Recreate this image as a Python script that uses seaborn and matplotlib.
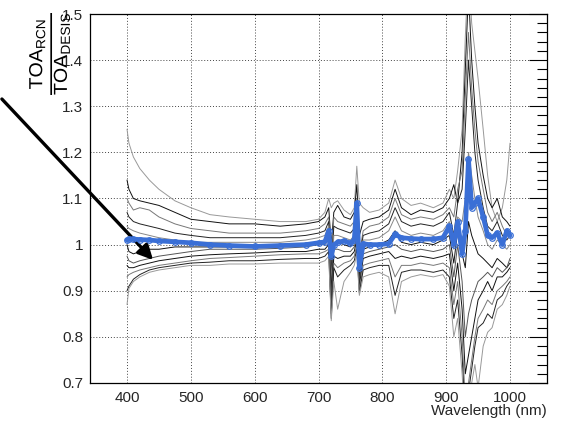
import matplotlib
matplotlib.use("Agg")
import matplotlib.pyplot as plt
import matplotlib.ticker as mticker
from matplotlib.textpath import TextPath
from matplotlib.patches import PathPatch
from matplotlib.transforms import Affine2D
from matplotlib.font_manager import FontProperties
import numpy as np
import pandas as pd
import seaborn as sns

# wavelength grid (nm)
wavelength = [400, 403, 410, 420, 435, 450, 475, 500, 530, 560, 600, 640, 680, 700, 710,
              716, 720, 724, 730, 740, 750, 756, 760, 764, 770, 780, 795, 810, 820, 830,
              845, 860, 880, 895, 905, 912, 918, 925, 930, 935, 940, 945, 950, 958, 965,
              972, 980, 988, 995, 1000]

# TOA ratio for each site/date (gray curves)
ratio_1 = [1.25, 1.22, 1.19, 1.165, 1.14, 1.12, 1.095, 1.08, 1.065, 1.06, 1.055, 1.05, 1.05, 1.055, 1.07,
           1.10, 1.08, 1.09, 1.095, 1.075, 1.065, 1.08, 1.17, 1.09, 1.08, 1.07, 1.075, 1.09, 1.14, 1.10,
           1.085, 1.09, 1.08, 1.09, 1.12, 1.10, 1.16, 1.25, 1.45, 1.60, 1.48, 1.42, 1.36, 1.25, 1.15,
           1.08, 1.05, 1.08, 1.14, 1.22]
ratio_2 = [1.14, 1.12, 1.10, 1.095, 1.09, 1.085, 1.07, 1.055, 1.05, 1.045, 1.045, 1.04, 1.045, 1.05, 1.06,
           1.08, 1.00, 1.07, 1.085, 1.06, 1.055, 1.07, 1.13, 1.02, 1.05, 1.055, 1.06, 1.075, 1.12, 1.08,
           1.065, 1.075, 1.07, 1.08, 1.10, 1.13, 1.09, 1.20, 1.38, 1.55, 1.40, 1.30, 1.22, 1.15, 1.10,
           1.08, 1.10, 1.06, 1.05, 1.04]
ratio_3 = [1.10, 1.09, 1.075, 1.08, 1.075, 1.06, 1.045, 1.035, 1.03, 1.025, 1.025, 1.025, 1.03, 1.035, 1.045,
           1.06, 0.96, 1.06, 1.05, 1.045, 1.04, 1.05, 1.10, 0.98, 1.03, 1.04, 1.045, 1.06, 1.10, 1.065,
           1.055, 1.06, 1.055, 1.065, 1.08, 1.06, 1.12, 1.16, 1.32, 1.46, 1.34, 1.25, 1.18, 1.12, 1.07,
           1.05, 1.07, 1.04, 1.02, 1.03]
ratio_4 = [1.07, 1.06, 1.05, 1.045, 1.04, 1.035, 1.025, 1.02, 1.015, 1.015, 1.015, 1.015, 1.02, 1.025, 1.03,
           1.05, 0.94, 1.04, 1.035, 1.03, 1.025, 1.035, 1.08, 0.97, 1.02, 1.025, 1.03, 1.045, 1.08, 1.05,
           1.04, 1.045, 1.04, 1.05, 1.07, 1.02, 1.09, 1.12, 1.25, 1.40, 1.30, 1.20, 1.14, 1.08, 1.04,
           1.03, 1.05, 1.02, 1.01, 1.02]
ratio_5 = [1.04, 1.035, 1.03, 1.025, 1.02, 1.015, 1.01, 1.005, 1.005, 1.005, 1.005, 1.005, 1.01, 1.015, 1.02,
           1.04, 0.92, 1.02, 1.02, 1.015, 1.01, 1.02, 1.06, 0.95, 1.01, 1.01, 1.015, 1.03, 1.06, 1.03,
           1.02, 1.025, 1.02, 1.03, 1.05, 0.99, 1.06, 1.05, 1.10, 1.20, 1.15, 1.10, 1.06, 1.03, 1.00,
           0.99, 1.01, 1.00, 0.99, 1.00]
ratio_6 = [1.00, 0.985, 0.98, 0.985, 0.99, 0.99, 0.995, 0.995, 0.995, 0.995, 0.995, 0.998, 1.0, 1.005, 1.01,
           1.02, 0.90, 1.00, 1.005, 1.0, 0.995, 1.01, 1.04, 0.93, 0.99, 0.995, 1.0, 1.01, 1.03, 1.005,
           1.0, 1.005, 1.0, 1.01, 1.02, 0.96, 1.03, 0.98, 0.95, 1.05, 1.02, 1.00, 0.98, 0.97, 0.96,
           0.95, 0.97, 0.96, 0.95, 0.96]
ratio_7 = [0.975, 0.965, 0.96, 0.965, 0.97, 0.975, 0.98, 0.985, 0.99, 0.99, 0.99, 0.992, 0.995, 1.0, 1.0,
           1.01, 0.88, 0.99, 0.99, 0.985, 0.985, 0.995, 1.02, 0.92, 0.98, 0.985, 0.99, 0.995, 1.0, 0.99,
           0.985, 0.99, 0.985, 0.99, 1.0, 0.93, 1.0, 0.92, 0.80, 0.85, 0.88, 0.90, 0.92, 0.93, 0.94,
           0.93, 0.95, 0.94, 0.95, 0.97]
ratio_8 = [0.955, 0.95, 0.95, 0.955, 0.96, 0.965, 0.97, 0.975, 0.978, 0.98, 0.982, 0.985, 0.985, 0.99, 0.99,
           1.0, 0.86, 0.975, 0.97, 0.975, 0.975, 0.985, 1.01, 0.91, 0.97, 0.975, 0.98, 0.985, 0.97, 0.975,
           0.97, 0.975, 0.97, 0.975, 0.98, 0.90, 0.96, 0.86, 0.72, 0.76, 0.80, 0.84, 0.88, 0.90, 0.92,
           0.90, 0.93, 0.93, 0.94, 0.95]
ratio_9 = [0.93, 0.935, 0.94, 0.945, 0.95, 0.955, 0.96, 0.965, 0.97, 0.972, 0.975, 0.978, 0.98, 0.98, 0.985,
           0.99, 0.85, 0.96, 0.95, 0.96, 0.965, 0.975, 1.0, 0.90, 0.955, 0.96, 0.965, 0.97, 0.93, 0.955,
           0.955, 0.96, 0.955, 0.96, 0.95, 0.87, 0.92, 0.80, 0.66, 0.70, 0.75, 0.80, 0.84, 0.86, 0.88,
           0.87, 0.90, 0.91, 0.92, 0.93]
ratio_10 = [0.90, 0.91, 0.925, 0.935, 0.945, 0.95, 0.955, 0.96, 0.962, 0.965, 0.965, 0.968, 0.97, 0.97, 0.975,
            0.985, 0.84, 0.95, 0.93, 0.945, 0.955, 0.965, 0.99, 0.895, 0.945, 0.95, 0.955, 0.955, 0.89, 0.94,
            0.945, 0.945, 0.94, 0.945, 0.93, 0.84, 0.88, 0.76, 0.62, 0.68, 0.73, 0.78, 0.82, 0.83, 0.85,
            0.84, 0.88, 0.89, 0.91, 0.92]
ratio_11 = [0.87, 0.905, 0.92, 0.93, 0.94, 0.945, 0.95, 0.955, 0.955, 0.958, 0.958, 0.96, 0.96, 0.96, 0.965,
            0.975, 0.835, 0.92, 0.86, 0.92, 0.94, 0.955, 0.98, 0.89, 0.93, 0.935, 0.94, 0.93, 0.85, 0.92,
            0.93, 0.935, 0.93, 0.935, 0.91, 0.80, 0.84, 0.72, 0.60, 0.65, 0.70, 0.74, 0.69, 0.78, 0.81,
            0.82, 0.86, 0.87, 0.89, 0.91]

# mean ratio (blue curve)
ratio_mean = [1.01, 1.012, 1.012, 1.011, 1.01, 1.008, 1.006, 1.004, 1.0, 0.998, 0.996, 0.998, 1.0, 1.004, 1.006,
              1.03, 0.975, 1.0, 1.005, 1.008, 1.003, 1.01, 1.09, 0.95, 1.002, 1.0, 1.0, 1.002, 1.022, 1.015,
              1.013, 1.012, 1.012, 1.015, 1.04, 1.0, 1.05, 0.98, 1.03, 1.185, 1.08, 1.09, 1.10, 1.06, 1.02,
              1.015, 1.025, 1.0, 1.03, 1.02]

gray_curves = [ratio_1, ratio_2, ratio_3, ratio_4, ratio_5, ratio_6,
               ratio_7, ratio_8, ratio_9, ratio_10, ratio_11]
gray_colors = ["#999999", "#111111", "#777777", "#222222", "#888888", "#111111",
               "#555555", "#111111", "#777777", "#222222", "#999999"]

sns.set_style("white")
plt.rcParams["font.family"] = ["Liberation Sans", "DejaVu Sans"]
plt.rcParams["mathtext.fontset"] = "custom"
plt.rcParams["mathtext.rm"] = "Liberation Sans"
plt.rcParams["mathtext.it"] = "Liberation Sans:italic"

W, H = 562, 424
fig = plt.figure(figsize=(W / 100, H / 100), dpi=100)
ax = fig.add_axes([90 / W, 41 / H, 457 / W, 369 / H])

for vals, col in zip(gray_curves, gray_colors):
    sns.lineplot(x=wavelength, y=vals, color=col, linewidth=0.7, ax=ax)

sns.lineplot(x=wavelength, y=ratio_mean, color="#3a6fd6", linewidth=3.4, marker="o",
             markersize=4, markerfacecolor="none", markeredgecolor="#3a6fd6",
             markeredgewidth=0.9, ax=ax, zorder=5)

ax.set_xlim(342, 1058)
ax.set_ylim(0.7, 1.5)
ax.xaxis.set_major_locator(mticker.MultipleLocator(100))
ax.xaxis.set_minor_locator(mticker.MultipleLocator(20))
ax.yaxis.set_major_locator(mticker.MultipleLocator(0.1))
ax.yaxis.set_minor_locator(mticker.MultipleLocator(0.02))
ax.yaxis.set_major_formatter(mticker.FuncFormatter(lambda v, p: f"{v:g}"))
ax.tick_params(which="both", direction="in", top=False, right=True, labelsize=11,
               color="black", width=0.8)
ax.tick_params(axis="x", which="major", length=9, pad=6)
ax.tick_params(axis="x", which="minor", length=4.5)
ax.tick_params(axis="y", which="major", length=13, pad=5)
ax.tick_params(axis="y", which="minor", length=7)
ax.grid(True, which="major", linestyle=(0, (1, 2)), color="#444444", linewidth=0.7)
for sp in ax.spines.values():
    sp.set_color("black")
    sp.set_linewidth(0.9)
ax.set_xlabel("")
ax.set_ylabel("")

fig.text(547 / W, 1 - 411 / H, "Wavelength (nm)", ha="right", va="center", fontsize=11)

# y title: rotated fraction, stretched like the ROOT font
label = r"$\frac{\mathrm{TOA}_{\mathrm{RCN}}}{\mathrm{TOA}_{\mathrm{DESIS}}}$"
tp = TextPath((0, 0), label, size=20, prop=FontProperties(family="Liberation Sans"))
bb = tp.get_extents()
cx, cy = (bb.x0 + bb.x1) / 2, (bb.y0 + bb.y1) / 2
sx, sy = 82 / bb.width, 41 / bb.height
tr = (Affine2D().translate(-cx, -cy).scale(sx, sy).rotate_deg(90)
      .translate(49.5, H - 54))
fig.patches.append(PathPatch(tr.transform_path(tp), facecolor="black", edgecolor="none",
                             transform=None, figure=fig))

ax.annotate("", xy=(155, H - 262), xycoords="figure pixels",
            xytext=(0, H - 97), textcoords="figure pixels",
            arrowprops=dict(arrowstyle="-|>", lw=2.4, color="black", mutation_scale=22),
            annotation_clip=False)

fig.savefig("out.png", dpi=100)
